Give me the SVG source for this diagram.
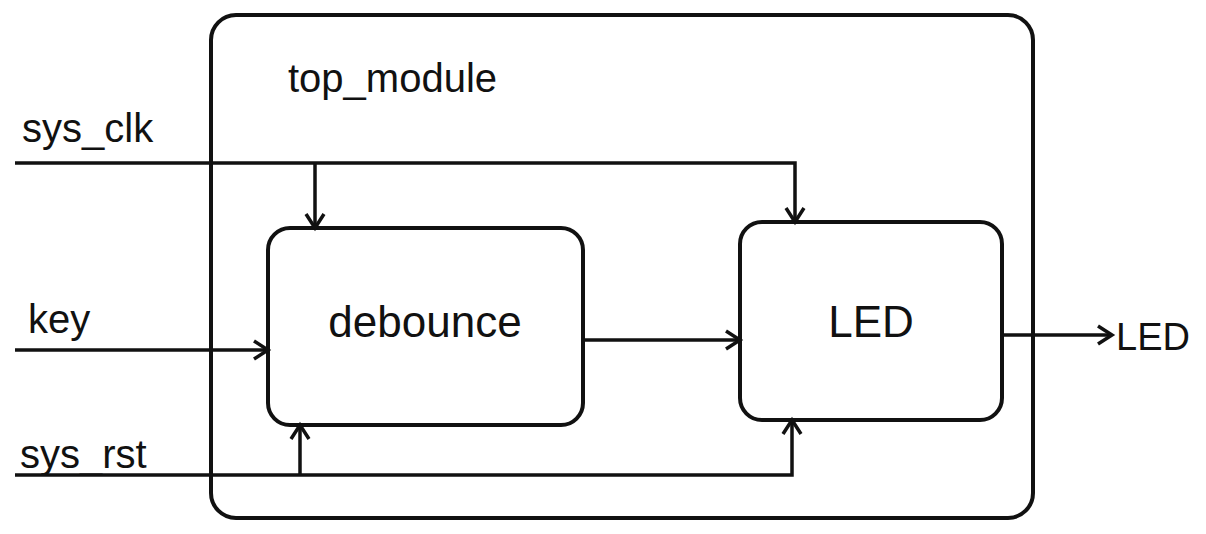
<svg xmlns="http://www.w3.org/2000/svg" width="1206" height="534" viewBox="0 0 1206 534">
<style>
.b{fill:none;stroke:#111;stroke-width:4}
.l{fill:none;stroke:#111;stroke-width:3.5}
text{font-family:"Liberation Sans",sans-serif;fill:#111}
</style>
<defs><marker id="a" markerWidth="20" markerHeight="22" refX="16" refY="11" orient="auto" markerUnits="userSpaceOnUse"><path d="M2,2 L16,11 L2,20" fill="none" stroke="#111" stroke-width="3.5"/></marker></defs>
<rect width="1206" height="534" fill="#fff"/>
<g id="top_module"><rect class="b" x="211" y="15" width="822" height="503" rx="25"/><text x="288" y="92" font-size="40">top_module</text></g>
<g id="debounce"><rect class="b" x="268" y="228" width="315" height="197" rx="22"/><text x="425" y="337" font-size="44" text-anchor="middle">debounce</text></g>
<g id="led"><rect class="b" x="740" y="222" width="262" height="198" rx="22"/><text x="871" y="337" font-size="44" text-anchor="middle">LED</text></g>
<g id="labels" font-size="40"><text x="22" y="142">sys_clk</text><text x="28" y="333">key</text><text x="20" y="468">sys_rst</text><text x="1116" y="350" font-size="38">LED</text></g>
<g id="connectors">
<path class="l" d="M15,163 L795,163 L795,222" marker-end="url(#a)"/>
<path class="l" d="M315,163 L315,228" marker-end="url(#a)"/>
<path class="l" d="M15,350 L268,350" marker-end="url(#a)"/>
<path class="l" d="M15,475 L792,475 L792,420" marker-end="url(#a)"/>
<path class="l" d="M300,475 L300,425" marker-end="url(#a)"/>
<path class="l" d="M583,340 L740,340" marker-end="url(#a)"/>
<path class="l" d="M1002,335 L1112,335" marker-end="url(#a)"/>
</g>
</svg>
